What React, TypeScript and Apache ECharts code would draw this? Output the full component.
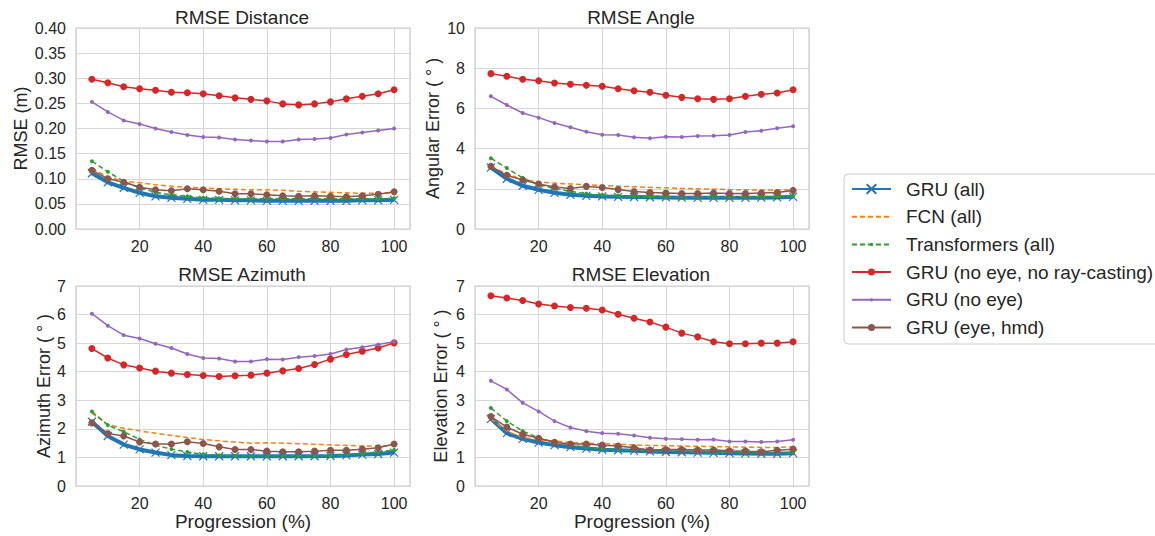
import React, { useEffect, useRef } from "react";
import * as echarts from "echarts";

// Sequence progression (%) at which each error was evaluated
const progression = [5, 10, 15, 20, 25, 30, 35, 40, 45, 50, 55, 60, 65, 70, 75, 80, 85, 90, 95, 100];

const methodNames = [
  "GRU (all)",
  "FCN (all)",
  "Transformers (all)",
  "GRU (no eye, no ray-casting)",
  "GRU (no eye)",
  "GRU (eye, hmd)",
];

// RMSE Distance (m)
const distGruAll = [0.111, 0.093, 0.082, 0.072, 0.065, 0.062, 0.060, 0.058, 0.058, 0.057, 0.057, 0.056, 0.056, 0.056, 0.056, 0.056, 0.056, 0.057, 0.057, 0.058];
const distFcnAll = [0.120, 0.104, 0.095, 0.092, 0.088, 0.085, 0.083, 0.082, 0.080, 0.079, 0.078, 0.078, 0.077, 0.075, 0.074, 0.073, 0.072, 0.071, 0.071, 0.072];
const distTransformers = [0.135, 0.114, 0.095, 0.082, 0.073, 0.068, 0.065, 0.062, 0.061, 0.060, 0.060, 0.060, 0.060, 0.060, 0.060, 0.060, 0.060, 0.060, 0.060, 0.061];
const distNoEyeNoRay = [0.298, 0.291, 0.283, 0.279, 0.276, 0.272, 0.271, 0.269, 0.265, 0.261, 0.258, 0.255, 0.249, 0.247, 0.249, 0.253, 0.259, 0.264, 0.269, 0.277];
const distNoEye = [0.253, 0.233, 0.216, 0.209, 0.200, 0.193, 0.187, 0.183, 0.182, 0.178, 0.176, 0.174, 0.174, 0.178, 0.179, 0.181, 0.188, 0.192, 0.196, 0.200];
const distEyeHmd = [0.117, 0.100, 0.093, 0.083, 0.078, 0.076, 0.080, 0.078, 0.075, 0.070, 0.070, 0.068, 0.066, 0.065, 0.066, 0.065, 0.064, 0.066, 0.069, 0.074];

// RMSE Angle (deg)
const angleGruAll = [3.05, 2.50, 2.15, 1.95, 1.80, 1.70, 1.65, 1.62, 1.60, 1.59, 1.58, 1.57, 1.56, 1.55, 1.55, 1.55, 1.55, 1.56, 1.57, 1.60];
const angleFcnAll = [3.10, 2.75, 2.45, 2.35, 2.28, 2.24, 2.20, 2.16, 2.13, 2.10, 2.07, 2.05, 2.02, 2.00, 1.98, 1.96, 1.95, 1.94, 1.93, 1.95];
const angleTransformers = [3.52, 3.03, 2.54, 2.21, 2.02, 1.87, 1.76, 1.69, 1.66, 1.63, 1.61, 1.59, 1.58, 1.58, 1.58, 1.59, 1.60, 1.61, 1.62, 1.66];
const angleNoEyeNoRay = [7.73, 7.60, 7.45, 7.38, 7.26, 7.20, 7.15, 7.10, 6.98, 6.88, 6.80, 6.65, 6.55, 6.48, 6.45, 6.48, 6.60, 6.70, 6.77, 6.93];
const angleNoEye = [6.60, 6.17, 5.77, 5.54, 5.27, 5.06, 4.84, 4.69, 4.68, 4.56, 4.51, 4.59, 4.58, 4.63, 4.64, 4.68, 4.83, 4.89, 5.01, 5.11];
const angleEyeHmd = [3.12, 2.67, 2.44, 2.24, 2.09, 2.01, 2.12, 2.06, 1.96, 1.86, 1.82, 1.79, 1.76, 1.76, 1.79, 1.76, 1.76, 1.79, 1.82, 1.92];

// RMSE Azimuth (deg)
const aziGruAll = [2.25, 1.75, 1.45, 1.28, 1.17, 1.08, 1.05, 1.04, 1.04, 1.04, 1.04, 1.04, 1.04, 1.04, 1.04, 1.05, 1.07, 1.10, 1.12, 1.17];
const aziFcnAll = [2.55, 2.15, 2.02, 1.93, 1.85, 1.77, 1.70, 1.63, 1.58, 1.54, 1.50, 1.51, 1.50, 1.48, 1.46, 1.44, 1.42, 1.40, 1.40, 1.42];
const aziTransformers = [2.61, 2.13, 1.90, 1.63, 1.43, 1.29, 1.19, 1.11, 1.07, 1.06, 1.06, 1.06, 1.06, 1.06, 1.06, 1.06, 1.09, 1.14, 1.19, 1.26];
const aziNoEyeNoRay = [4.81, 4.48, 4.24, 4.13, 4.02, 3.95, 3.90, 3.87, 3.83, 3.86, 3.88, 3.95, 4.03, 4.11, 4.25, 4.44, 4.60, 4.72, 4.83, 5.01];
const aziNoEye = [6.03, 5.61, 5.28, 5.16, 4.98, 4.83, 4.62, 4.48, 4.46, 4.36, 4.36, 4.44, 4.43, 4.51, 4.55, 4.62, 4.78, 4.86, 4.95, 5.05];
const aziEyeHmd = [2.21, 1.84, 1.75, 1.54, 1.47, 1.47, 1.55, 1.49, 1.37, 1.28, 1.28, 1.22, 1.20, 1.20, 1.22, 1.25, 1.25, 1.29, 1.34, 1.47];

// RMSE Elevation (deg)
const elevGruAll = [2.35, 1.85, 1.65, 1.52, 1.43, 1.36, 1.31, 1.27, 1.25, 1.23, 1.21, 1.19, 1.18, 1.17, 1.16, 1.15, 1.14, 1.13, 1.13, 1.15];
const elevFcnAll = [2.35, 1.92, 1.70, 1.62, 1.57, 1.53, 1.50, 1.48, 1.46, 1.44, 1.42, 1.41, 1.40, 1.39, 1.38, 1.37, 1.36, 1.35, 1.35, 1.37];
const elevTransformers = [2.73, 2.27, 1.92, 1.69, 1.53, 1.43, 1.36, 1.30, 1.28, 1.26, 1.24, 1.22, 1.21, 1.20, 1.19, 1.18, 1.17, 1.16, 1.15, 1.15];
const elevNoEyeNoRay = [6.66, 6.58, 6.49, 6.37, 6.30, 6.25, 6.22, 6.16, 6.01, 5.87, 5.74, 5.56, 5.35, 5.22, 5.05, 4.98, 4.98, 5.00, 5.00, 5.05];
const elevNoEye = [3.68, 3.38, 2.91, 2.61, 2.27, 2.05, 1.92, 1.85, 1.83, 1.77, 1.69, 1.65, 1.64, 1.62, 1.63, 1.56, 1.56, 1.54, 1.56, 1.62];
const elevEyeHmd = [2.43, 2.06, 1.81, 1.67, 1.53, 1.47, 1.47, 1.43, 1.40, 1.34, 1.26, 1.28, 1.28, 1.26, 1.26, 1.23, 1.22, 1.20, 1.25, 1.29];

const FONT = '"Liberation Sans", Arial, Helvetica, sans-serif';
const TEXT = "#262626";
const GRID_LINE = "#d6d6d6";
const X_MARK = "path://M0,0L10,10M10,0L0,10";

// Legend glyphs: drawn inside a fixed 12x12 box so the dot size stays proportional
const boxedDot = (r: number) =>
  `path://M0,0M12,12M${6 - r},6a${r},${r} 0 1,0 ${2 * r},0a${r},${r} 0 1,0 ${-2 * r},0z`;
const legendGlyphs = [
  "path://M1,1L11,11M11,1L1,11",
  "path://M0,0M12,12",
  boxedDot(2),
  boxedDot(4.4),
  boxedDot(2),
  boxedDot(4.4),
];

// Per-method line and marker styling (same order as methodNames)
const methodStyles = [
  { color: "#1f77b4", width: 4, dash: "solid", symbol: X_MARK, size: 8, stroked: true },
  { color: "#ff7f0e", width: 1.5, dash: [5, 3], symbol: "none", size: 0, stroked: false },
  { color: "#2ca02c", width: 1.5, dash: [5, 3], symbol: "circle", size: 4, stroked: false },
  { color: "#d62728", width: 1.5, dash: "solid", symbol: "circle", size: 7, stroked: false },
  { color: "#9467bd", width: 1.5, dash: "solid", symbol: "circle", size: 4, stroked: false },
  { color: "#8c564b", width: 1.5, dash: "solid", symbol: "circle", size: 7, stroked: false },
];

const panels = [
  {
    title: "RMSE Distance", yName: "RMSE (m)", yMax: 0.4, yStep: 0.05, digits: 2,
    values: [distGruAll, distFcnAll, distTransformers, distNoEyeNoRay, distNoEye, distEyeHmd],
    grid: { left: 76, top: 28, width: 334, height: 201 }, titleX: 242, titleY: 8, nameGap: 46, xName: "",
  },
  {
    title: "RMSE Angle", yName: "Angular Error ( ° )", yMax: 10, yStep: 2, digits: 0,
    values: [angleGruAll, angleFcnAll, angleTransformers, angleNoEyeNoRay, angleNoEye, angleEyeHmd],
    grid: { left: 475, top: 28, width: 334, height: 201 }, titleX: 641, titleY: 8, nameGap: 33, xName: "",
  },
  {
    title: "RMSE Azimuth", yName: "Azimuth Error ( ° )", yMax: 7, yStep: 1, digits: 0,
    values: [aziGruAll, aziFcnAll, aziTransformers, aziNoEyeNoRay, aziNoEye, aziEyeHmd],
    grid: { left: 76, top: 286, width: 334, height: 200 }, titleX: 242, titleY: 265, nameGap: 23, xName: "Progression (%)",
  },
  {
    title: "RMSE Elevation", yName: "Elevation Error ( ° )", yMax: 7, yStep: 1, digits: 0,
    values: [elevGruAll, elevFcnAll, elevTransformers, elevNoEyeNoRay, elevNoEye, elevEyeHmd],
    grid: { left: 475, top: 286, width: 334, height: 200 }, titleX: 641, titleY: 265, nameGap: 25, xName: "Progression (%)",
  },
];

const lineStyleOf = (mi: number) => {
  const st = methodStyles[mi];
  return { color: st.color, width: st.width, type: st.dash };
};
const itemStyleOf = (mi: number) => {
  const st = methodStyles[mi];
  return st.stroked
    ? { color: st.color, borderColor: st.color, borderWidth: 1.2 }
    : { color: st.color, borderWidth: 0 };
};

export default function App() {
  const ref = useRef<HTMLDivElement>(null);

  useEffect(() => {
    if (!ref.current) return;
    const chart = echarts.init(ref.current, undefined, { renderer: "svg" });

    const series: any[] = [];

    // Empty carrier series: the legend takes its glyph from the first series of each name
    methodNames.forEach((name, mi) => {
      series.push({
        type: "line",
        name,
        xAxisIndex: 0,
        yAxisIndex: 0,
        data: [],
        symbol: legendGlyphs[mi],
        color: methodStyles[mi].color,
        lineStyle: lineStyleOf(mi),
        itemStyle: itemStyleOf(mi),
        silent: true,
      });
    });

    panels.forEach((p, gi) => {
      p.values.forEach((vals, mi) => {
        const st = methodStyles[mi];
        series.push({
          type: "line",
          name: methodNames[mi],
          xAxisIndex: gi,
          yAxisIndex: gi,
          data: progression.map((x, i) => [x, vals[i]]),
          symbol: st.symbol,
          symbolSize: st.size,
          showSymbol: st.symbol !== "none",
          color: st.color,
          lineStyle: lineStyleOf(mi),
          itemStyle: itemStyleOf(mi),
          emphasis: { disabled: true },
          z: 2 + mi,
        });
      });
    });

    const option: any = {
      animation: false,
      backgroundColor: "#ffffff",
      textStyle: { fontFamily: FONT, color: TEXT },
      title: panels.map((p) => ({
        text: p.title,
        left: p.titleX,
        top: p.titleY,
        textAlign: "center",
        padding: 0,
        textStyle: { fontFamily: FONT, fontSize: 19, fontWeight: "normal", color: TEXT },
      })),
      grid: panels.map((p) => ({
        ...p.grid,
        show: true,
        borderColor: "#cccccc",
        borderWidth: 1.25,
        backgroundColor: "transparent",
        containLabel: false,
      })),
      xAxis: panels.map((p, gi) => ({
        type: "value",
        gridIndex: gi,
        min: 0,
        max: 105,
        interval: 20,
        name: p.xName,
        nameLocation: "middle",
        nameGap: 26,
        nameTextStyle: { fontFamily: FONT, fontSize: 19, color: TEXT },
        axisLine: { show: false },
        axisTick: { show: false },
        splitLine: { show: true, lineStyle: { color: GRID_LINE, width: 1 } },
        axisLabel: {
          fontFamily: FONT,
          fontSize: 16,
          color: TEXT,
          margin: 9,
          formatter: (v: number) => (v > 0 && v % 20 === 0 ? String(v) : ""),
        },
      })),
      yAxis: panels.map((p, gi) => ({
        type: "value",
        gridIndex: gi,
        min: 0,
        max: p.yMax,
        interval: p.yStep,
        name: p.yName,
        nameLocation: "middle",
        nameGap: p.nameGap,
        nameTextStyle: { fontFamily: FONT, fontSize: 18, color: TEXT },
        axisLine: { show: false },
        axisTick: { show: false },
        splitLine: { show: true, lineStyle: { color: GRID_LINE, width: 1 } },
        axisLabel: {
          fontFamily: FONT,
          fontSize: 16,
          color: TEXT,
          margin: 10,
          formatter: (v: number) => v.toFixed(p.digits),
        },
      })),
      legend: {
        data: methodNames,
        orient: "vertical",
        left: 851,
        top: 179,
        padding: 0,
        itemWidth: 39,
        itemHeight: 12,
        itemGap: 7.7,
        selectedMode: false,
        textStyle: { fontFamily: FONT, fontSize: 19, color: TEXT, lineHeight: 20, padding: [0, 0, 0, 10] },
      },
      graphic: [
        {
          type: "rect",
          z: -1,
          shape: { x: 844, y: 174, width: 330, height: 170, r: 4 },
          style: { fill: "#ffffff", stroke: "#cccccc", lineWidth: 1 },
        },
      ],
      series,
    };

    chart.setOption(option);
    return () => chart.dispose();
  }, []);

  return (
    <div
      ref={ref}
      style={{ position: "fixed", left: 0, top: 0, width: 1155, height: 536, background: "#fff" }}
    />
  );
}
